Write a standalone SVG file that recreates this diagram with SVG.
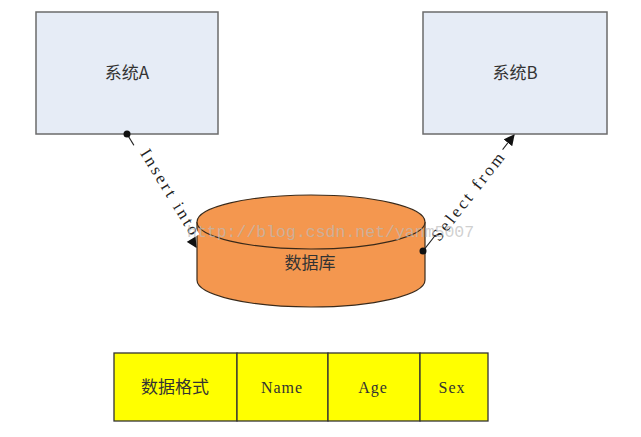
<svg xmlns="http://www.w3.org/2000/svg" width="641" height="437" viewBox="0 0 641 437">
<defs>
<style>
.sys{fill:#e6ecf6;stroke:#6b6b6b;stroke-width:1.5}
.cjk{font-family:"Noto Sans CJK SC","Liberation Sans",sans-serif;font-size:17px;fill:#333;text-anchor:middle}
.cell{fill:#ffff00;stroke:#333;stroke-width:1.3}
.ct{font-family:"Liberation Serif","Noto Sans CJK SC",serif;font-size:16px;fill:#333;text-anchor:middle;letter-spacing:1px}
.lbl{font-family:"Liberation Serif",serif;font-size:17px;fill:#222;text-anchor:middle;letter-spacing:2.8px}
.conn{stroke:#222;stroke-width:1.2;fill:none}
</style>
<marker id="ah" viewBox="0 0 10 10" refX="9" refY="5" markerWidth="11" markerHeight="11" orient="auto" markerUnits="userSpaceOnUse">
<path d="M0,0 L10,5 L0,10 z" fill="#111"/>
</marker>
</defs>
<rect width="641" height="437" fill="#fff"/>
<g id="sysA">
<rect class="sys" x="36" y="12" width="182" height="122"/>
<text class="cjk" x="127" y="79">系统A</text>
</g>
<g id="sysB">
<rect class="sys" x="423" y="12" width="184" height="122"/>
<text class="cjk" x="515" y="79">系统B</text>
</g>
<g id="db">
<path d="M197,222 L197,280 A114,27 0 0 0 425,280 L425,222" fill="#f4974f" stroke="#3a2a1a" stroke-width="1.2"/>
<ellipse cx="311" cy="222" rx="114" ry="27" fill="#f4974f" stroke="#3a2a1a" stroke-width="1.2"/>
<text class="cjk" x="310" y="269" font-size="18">数据库</text>
</g>
<g id="connectors">
<line class="conn" x1="127" y1="134" x2="196" y2="247" marker-end="url(#ah)"/>
<circle cx="127" cy="134" r="3.5" fill="#111"/>
<rect x="-55" y="-9" width="110" height="16" fill="#fff" transform="translate(163,192) rotate(58.5)"/>
<text class="lbl" transform="translate(166,196) rotate(58.5)">Insert into</text>
<line class="conn" x1="423" y1="251" x2="514" y2="135" marker-end="url(#ah)"/>
<circle cx="423" cy="251" r="3.5" fill="#111"/>
<rect x="-55" y="-9" width="110" height="16" fill="#fff" transform="translate(470,194) rotate(-52)"/>
<text class="lbl" transform="translate(473,199) rotate(-52)">Select from</text>
</g>
<g id="table">
<rect class="cell" x="114" y="353" width="123" height="68"/>
<rect class="cell" x="237" y="353" width="91" height="68"/>
<rect class="cell" x="328" y="353" width="92" height="68"/>
<rect class="cell" x="420" y="353" width="68" height="68"/>
<text class="cjk" x="175" y="393">数据格式</text>
<text class="ct" x="282" y="393">Name</text>
<text class="ct" x="373" y="393">Age</text>
<text class="ct" x="452" y="393">Sex</text>
</g>
<text x="187" y="237" font-family="Liberation Mono,monospace" font-size="16.5" fill="#bbb" fill-opacity="0.7">http://blog.csdn.net/yanm5007</text>
</svg>
